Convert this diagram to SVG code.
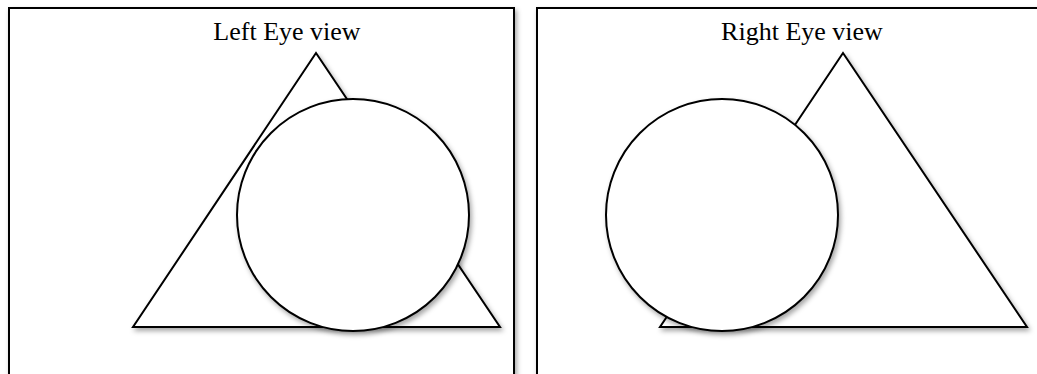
<svg xmlns="http://www.w3.org/2000/svg" width="1037" height="374" viewBox="0 0 1037 374">
<defs>
<filter id="sh" x="-10%" y="-10%" width="130%" height="130%">
<feDropShadow dx="2" dy="3" stdDeviation="2.5" flood-color="#000" flood-opacity="0.35"/>
</filter>
<style>
.panel{fill:#fff;stroke:#000;stroke-width:2;filter:url(#sh)}
.shape{fill:#fff;stroke:#000;stroke-width:2;filter:url(#sh)}
.lbl{font-family:"Liberation Serif","Times New Roman",serif;font-size:26px;fill:#000;text-anchor:middle}
</style>
</defs>
<g id="left-panel">
<rect class="panel" x="9" y="8" width="505" height="380"/>
<text class="lbl" x="287" y="40">Left Eye view</text>
</g>
<g id="right-panel">
<rect class="panel" x="537" y="8" width="520" height="380"/>
<text class="lbl" x="802" y="40">Right Eye view</text>
</g>
<g id="left-triangle"><polygon class="shape" points="316,53 133,327 500,327"/></g>
<g id="left-circle"><circle class="shape" cx="353" cy="215" r="116"/></g>
<g id="right-triangle"><polygon class="shape" points="843,53 660,327 1027,327"/></g>
<g id="right-circle"><circle class="shape" cx="722" cy="215" r="116"/></g>
<g id="connectors"></g>
</svg>
